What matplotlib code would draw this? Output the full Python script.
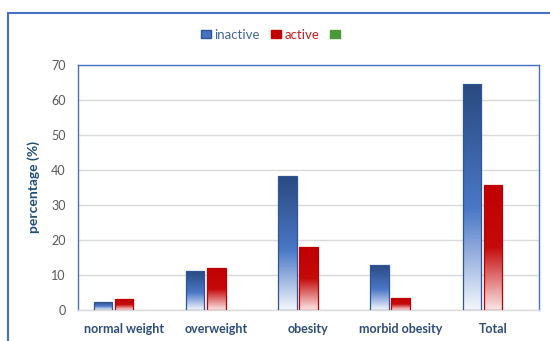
# Bar chart: share of inactive / active people per weight class
import numpy as np
import matplotlib.pyplot as plt
from matplotlib.colors import LinearSegmentedColormap
from matplotlib.patches import Rectangle, Patch

categories = ["normal weight", "overweight", "obesity", "morbid obesity", "Total"]
inactive = [2.3, 11.1, 38.2, 12.9, 64.5]
active = [3.1, 11.9, 17.9, 3.4, 35.8]
other = [0, 0, 0, 0, 0]
series_labels = ["inactive", "active", ""]

yticks = [0, 10, 20, 30, 40, 50, 60, 70]

BLUE_CMAP = LinearSegmentedColormap.from_list(
    "blue_grad", [(0.0, "#f4f7fc"), (0.45, "#4a77c7"), (1.0, "#2a4a80")])
RED_CMAP = LinearSegmentedColormap.from_list(
    "red_grad", [(0.0, "#fbe6e6"), (0.5, "#c40a0a"), (1.0, "#c00000")])


def fill_gradient(ax, bars, cmap):
    # remplit chaque barre avec un dégradé vertical
    grad = np.linspace(0, 1, 256).reshape(-1, 1)
    for b in bars:
        x0, y0 = b.get_x(), b.get_y()
        w, h = b.get_width(), b.get_height()
        if h <= 0:
            continue
        im = ax.imshow(grad, cmap=cmap, origin="lower", aspect="auto",
                       extent=(x0, x0 + w, y0, y0 + h), zorder=2)
        im.set_clip_path(b)


def main():
    plt.rcParams["font.family"] = ["Lato", "DejaVu Sans"]
    fig = plt.figure(figsize=(5.5, 3.41), dpi=100)
    ax = fig.add_axes([0.1418, 0.0909, 0.8382, 0.7185])

    x = np.arange(len(categories))
    w = 0.2
    off = 0.228

    b1 = ax.bar(x - off, inactive, w, facecolor="none", edgecolor="#2f5597",
                linewidth=0.9, zorder=3)
    b2 = ax.bar(x, active, w, facecolor="none", edgecolor="#c00000",
                linewidth=0.9, zorder=3)
    ax.bar(x + off, other, w, facecolor="#4a9a3a", edgecolor="#4a9a3a",
           linewidth=0, zorder=3)

    fill_gradient(ax, b1, BLUE_CMAP)
    fill_gradient(ax, b2, RED_CMAP)

    ax.set_xlim(-0.5, len(categories) - 0.5)
    ax.set_ylim(0, 70)
    ax.set_yticks(yticks)
    ax.set_xticks(x)
    ax.set_xticklabels(categories, fontsize=9, fontweight="bold", color="#2e4d7b")
    ax.tick_params(axis="y", labelsize=9, labelcolor="#595959", length=0, pad=9)
    ax.tick_params(axis="x", length=0, pad=9)

    ax.grid(axis="y", color="#d9d9d9", linewidth=1, zorder=0)
    ax.set_axisbelow(True)
    for side in ["top", "left", "right"]:
        ax.spines[side].set_color("#4472c4")
        ax.spines[side].set_linewidth(1)
    ax.spines["bottom"].set_color("#d9d9d9")
    ax.spines["bottom"].set_linewidth(1)

    ax.set_ylabel("percentage (%)", fontsize=10, fontweight="bold",
                  color="#1f4e79", labelpad=8)

    # légende en haut
    handles = [Patch(facecolor="#4472c4", edgecolor="#2f5597"),
               Patch(facecolor="#c00000", edgecolor="#c00000"),
               Patch(facecolor="#4a9a3a", edgecolor="#4a9a3a")]
    leg = fig.legend(handles, series_labels, loc="center",
                     bbox_to_anchor=(0.495, 0.898), ncol=3, frameon=False,
                     fontsize=9.5, handlelength=0.8, handleheight=0.6,
                     handletextpad=0.25, columnspacing=0.8)
    for txt, col in zip(leg.get_texts(), ["#44679a", "#d01c1c", "#4a9a3a"]):
        txt.set_color(col)

    # cadre extérieur du graphique
    fig.patches.append(Rectangle((8 / 550, -0.05), 1.0, 0.962 + 0.05,
                                 transform=fig.transFigure, fill=False,
                                 edgecolor="#4472c4", linewidth=1.5))

    fig.savefig("out.png", dpi=100)
    plt.close(fig)


if __name__ == "__main__":
    main()
